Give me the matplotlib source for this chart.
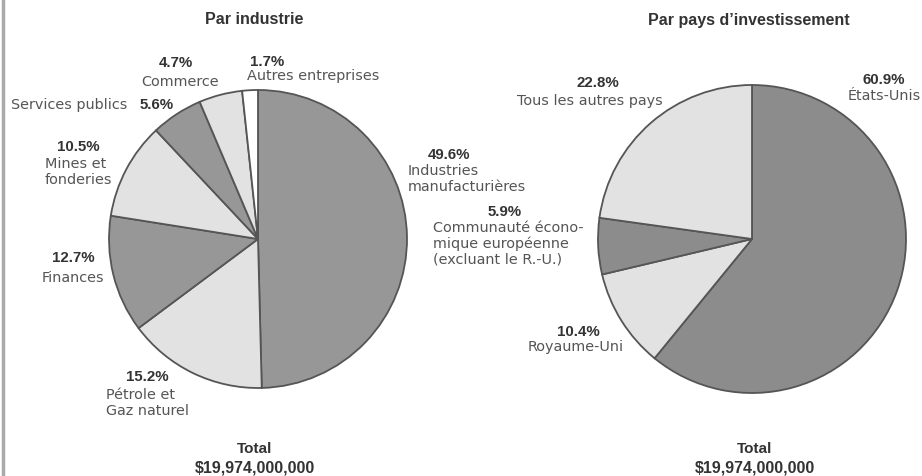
import matplotlib
matplotlib.use("Agg")
import matplotlib.pyplot as plt

plt.rcParams['font.family'] = ['Liberation Sans', 'DejaVu Sans']

# Data
industry_labels = ["Industries\nmanufacturières", "Pétrole et\nGaz naturel", "Finances",
                   "Mines et\nfonderies", "Services publics", "Commerce", "Autres entreprises"]
industry_values = [49.6, 15.2, 12.7, 10.5, 5.6, 4.7, 1.7]
country_labels = ["États-Unis", "Royaume-Uni",
                  "Communauté écono-\nmique européenne\n(excluant le R.-U.)",
                  "Tous les autres pays"]
country_values = [60.9, 10.4, 5.9, 22.8]
total_text = "$19,974,000,000"

W, H = 922, 477
fig = plt.figure(figsize=(W / 100, H / 100), dpi=100)
ax = fig.add_axes([0, 0, 1, 1])

def Y(py):
    return H - py

dark = "#979797"
light = "#e2e2e2"
edge = "#555555"

ind_colors = [dark, light, dark, light, dark, light, "#ffffff"]
cty_colors = ["#8c8c8c", light, "#8c8c8c", light]

ax.pie(industry_values, startangle=90, counterclock=False, center=(258, Y(240)),
       radius=149, colors=ind_colors,
       wedgeprops=dict(edgecolor=edge, linewidth=1.3))
ax.pie(country_values, startangle=90, counterclock=False, center=(752, Y(240)),
       radius=154, colors=cty_colors,
       wedgeprops=dict(edgecolor=edge, linewidth=1.3))

ax.set_xlim(0, W)
ax.set_ylim(0, H)
ax.set_aspect('auto')
ax.axis('off')

# left border line
ax.plot([3, 3], [0, H], color="#aaaaaa", lw=2.5)

tc = "#333333"
lc = "#555555"
fs_lab = 10.4
fs_pct = 10.8
reg_family = ['DejaVu Sans']

def pct(x, y, s, ha='center'):
    ax.text(x, Y(y), s, ha=ha, va='center', fontsize=fs_pct, fontweight='bold', color=tc)

def lab(x, y, s, ha='center', ls=1.15):
    ax.text(x, Y(y), s, ha=ha, va='top', fontsize=fs_lab, color=lc, linespacing=ls,
            family=reg_family)

# Titles
ax.text(254, Y(20), "Par industrie", ha='center', va='center', fontsize=11.5, fontweight='bold', color=tc)
ax.text(749, Y(20), "Par pays d\u2019investissement", ha='center', va='center', fontsize=11.5,
        fontweight='bold', color=tc)

# Left pie labels
pct(449, 155, f"{industry_values[0]}%")
lab(408, 164, industry_labels[0], ha='left')
pct(147, 377, f"{industry_values[1]}%")
lab(106, 388, industry_labels[1], ha='left')
pct(73, 258, f"{industry_values[2]}%")
lab(73, 271, industry_labels[2])
pct(78, 147, f"{industry_values[3]}%")
lab(45, 157, industry_labels[3], ha='left')
ax.text(11, Y(105), industry_labels[4], ha='left', va='center', fontsize=fs_lab, color=lc,
        family=reg_family)
pct(174, 105, f"{industry_values[4]}%", ha='right')
pct(176, 63, f"{industry_values[5]}%")
lab(180, 75, industry_labels[5])
pct(267, 62, f"{industry_values[6]}%")
lab(247, 69, industry_labels[6], ha='left')

# Right pie labels
pct(884, 80, f"{country_values[0]}%")
lab(884, 89, country_labels[0])
pct(578, 332, f"{country_values[1]}%")
lab(576, 340, country_labels[1])
pct(505, 212, f"{country_values[2]}%")
lab(433, 221, country_labels[2], ha='left')
pct(598, 83, f"{country_values[3]}%")
lab(590, 94, country_labels[3])

# Totals
for cx in (255, 755):
    ax.text(cx, Y(449), "Total", ha='center', va='center', fontsize=11, fontweight='bold', color=tc)
    ax.text(cx, Y(468), total_text, ha='center', va='center', fontsize=11.5, fontweight='bold', color=tc)

fig.savefig("out.png", dpi=100, facecolor="white")
